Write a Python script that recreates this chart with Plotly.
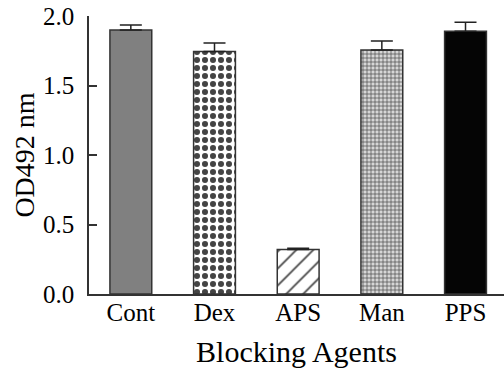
import plotly.graph_objects as go

categories = ["Cont", "Dex", "APS", "Man", "PPS"]
values = [1.90, 1.745, 0.32, 1.755, 1.89]
errors = [0.035, 0.06, 0.01, 0.065, 0.065]
fill_colors = ["#808080", "#ffffff", "#ffffff", "#d6d6d6", "#050505"]
pattern_shapes = ["", ".", "/", "+", ""]
pattern_fg = ["#808080", "#000000", "#000000", "#f2f2f2", "#050505"]
pattern_size = [8, 8, 12, 4, 8]
pattern_solidity = [0.3, 0.45, 0.14, 0.3, 0.3]
y_ticks = [0.0, 0.5, 1.0, 1.5, 2.0]
y_ticklabels = ["0.0", "0.5", "1.0", "1.5", "2.0"]

font = '"Liberation Serif", "Times New Roman", Times, serif'

fig = go.Figure()
fig.add_trace(go.Bar(
    x=list(range(len(categories))),
    y=values,
    width=0.5,
    marker=dict(
        color=fill_colors,
        line=dict(color="#333333", width=1.5),
        pattern=dict(
            shape=pattern_shapes,
            fgcolor=pattern_fg,
            bgcolor=fill_colors,
            fgopacity=1,
            size=pattern_size,
            solidity=pattern_solidity,
            fillmode="overlay",
        ),
    ),
    error_y=dict(
        type="data",
        symmetric=False,
        array=errors,
        arrayminus=[0] * len(errors),
        color="#222222",
        thickness=1.5,
        width=11,
    ),
    showlegend=False,
    hoverinfo="skip",
))

fig.update_layout(
    width=504,
    height=368,
    margin=dict(l=89, r=0, t=15.5, b=74),
    paper_bgcolor="white",
    plot_bgcolor="white",
    font=dict(family=font, color="#000000", size=25),
    bargap=0.5,
)

fig.update_xaxes(
    range=[-0.5, 4.46],
    tickmode="array",
    tickvals=list(range(len(categories))),
    ticktext=categories,
    ticks="",
    showline=True,
    linecolor="#333333",
    linewidth=1.5,
    showgrid=False,
    zeroline=False,
    tickfont=dict(size=25, family=font),
    ticklabelstandoff=-5,
    title=dict(text="Blocking Agents", font=dict(size=30, family=font), standoff=16),
    automargin=False,
)

fig.update_yaxes(
    range=[0, 2.0],
    tickmode="array",
    tickvals=y_ticks,
    ticktext=y_ticklabels,
    ticks="inside",
    ticklen=8,
    tickwidth=1.5,
    tickcolor="#333333",
    showline=True,
    linecolor="#333333",
    linewidth=1.5,
    showgrid=False,
    zeroline=False,
    tickfont=dict(size=25, family=font),
    ticklabelstandoff=8,
    title=dict(text="OD492 nm", font=dict(size=28, family=font), standoff=0),
    automargin=False,
)

fig.write_html(
    "out.html",
    config={"displayModeBar": False},
    post_script="document.body.style.margin='0';document.body.style.padding='0';",
)
